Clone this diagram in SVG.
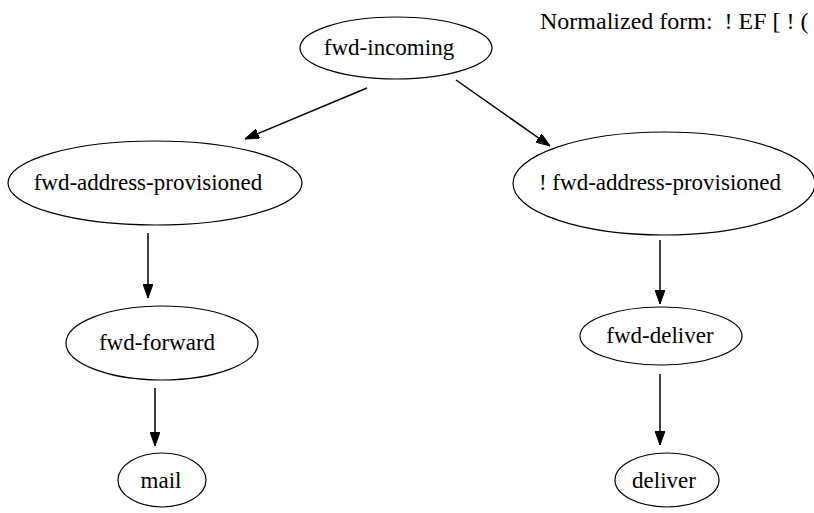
<svg xmlns="http://www.w3.org/2000/svg" width="814" height="513" viewBox="0 0 814 513">
<defs>
<marker id="ah" markerWidth="14" markerHeight="10" refX="14" refY="5" orient="auto" markerUnits="userSpaceOnUse">
<path d="M0,0 L14,5 L0,10 Z" fill="#000" stroke="#000" stroke-width="1"/>
</marker>
<style>
.n ellipse{fill:none;stroke:#000;stroke-width:1.2}
.n text, .lbl{font-family:"Liberation Serif","Times New Roman",serif;font-size:23px;fill:#000;text-anchor:middle}
.lbl{text-anchor:start;font-size:24px}
.e line{stroke:#000;stroke-width:1.5;marker-end:url(#ah)}
</style>
</defs>
<rect width="814" height="513" fill="#fff"/>
<text class="lbl" x="540" y="29" xml:space="preserve">Normalized form:  ! EF [ ! (</text>
<g id="edges" class="e">
<line x1="367" y1="88" x2="245" y2="139"/>
<line x1="456" y1="80" x2="550" y2="146"/>
<line x1="148" y1="233" x2="148" y2="298"/>
<line x1="155" y1="388" x2="155" y2="446"/>
<line x1="660" y1="240" x2="660" y2="304"/>
<line x1="660" y1="374" x2="660" y2="445"/>
</g>
<g id="fwd-incoming" class="n"><ellipse cx="396" cy="48" rx="96" ry="31"/><text x="389" y="55">fwd-incoming</text></g>
<g id="fwd-address-provisioned" class="n"><ellipse cx="155" cy="183" rx="147" ry="42"/><text x="148" y="190">fwd-address-provisioned</text></g>
<g id="not-fwd-address-provisioned" class="n"><ellipse cx="664" cy="183.5" rx="151" ry="51.5"/><text x="660" y="190">! fwd-address-provisioned</text></g>
<g id="fwd-forward" class="n"><ellipse cx="162" cy="343" rx="96" ry="37"/><text x="157" y="350">fwd-forward</text></g>
<g id="mail" class="n"><ellipse cx="162" cy="480" rx="44" ry="27"/><text x="161" y="488">mail</text></g>
<g id="fwd-deliver" class="n"><ellipse cx="661" cy="336" rx="81" ry="29"/><text x="660" y="343">fwd-deliver</text></g>
<g id="deliver" class="n"><ellipse cx="667" cy="480" rx="52" ry="27"/><text x="664" y="488">deliver</text></g>
</svg>
